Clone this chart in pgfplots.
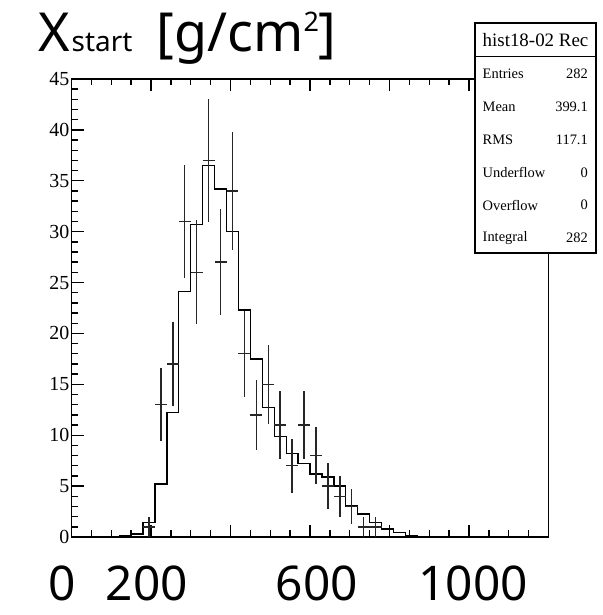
\documentclass[border=0pt]{standalone}
\usepackage{fontspec}
\setmainfont{Liberation Serif}
\newfontfamily\jp{Noto Sans}
\usepackage{pgfplots}
\usepackage{pgfplotstable}
\pgfplotsset{compat=1.18}
\pgfplotstableread{
x y
0 0
30 0
60 0
90 0.05
120 0.1
150 0.3
180 1.44
210 5.2
240 12.25
270 24.1
300 30.7
330 36.5
360 34.2
390 30.0
420 22.3
450 17.5
480 12.7
510 9.85
540 8.2
570 7.2
600 6.2
630 5.9
660 5.0
690 3.05
720 2.26
750 1.4
780 0.8
810 0.42
840 0.1
870 0.05
900 0
930 0
960 0
990 0
1020 0
1050 0
1080 0
1110 0
1140 0
1170 0
1200 0
}\mchist
\pgfplotstableread{
x y ex ey
195 1 15 1
225 13 15 3.606
255 17 15 4.123
285 31 15 5.568
315 26 15 5.099
345 37 15 6.083
375 27 15 5.196
405 34 15 5.831
435 18 15 4.243
465 12 15 3.464
495 15 15 3.873
525 11 15 3.317
555 7 15 2.646
585 11 15 3.317
615 8 15 2.828
645 5 15 2.236
675 4 15 2
705 3 15 1.732
735 1 15 1
765 1 15 1
}\recdata
\begin{document}
\begin{tikzpicture}
\useasboundingbox (-71.5bp,-78bp) rectangle (531.5bp,537bp);
\begin{axis}[
 at={(0bp,0bp)}, anchor=south west,
 scale only axis, width=477bp, height=458bp,
 xmin=0, xmax=1200, ymin=0, ymax=45,
 axis line style={line width=1.6bp},
 xtick={0,200,...,1200},
 minor x tick num=3,
 ytick={0,5,...,45},
 minor y tick num=4,
 ytick pos=left,
 xtick pos=both,
 tick align=inside,
 major tick length=12bp, minor tick length=6.5bp,
 every tick/.style={black, line width=1.4bp},
 xticklabels={0\hspace*{19bp},200\hspace*{8bp},,\hspace*{14bp}600,,\hspace*{8bp}1000,},
 xticklabel style={font=\jp\fontsize{48}{48}\selectfont, anchor=base, inner sep=0pt, yshift=-63bp},
 yticklabel style={font=\fontsize{20}{20}\selectfont, inner sep=2bp},
 /pgf/number format/assume math mode=true,
]
\addplot[const plot, black, line width=1.3bp] table[x=x, y=y] {\mchist};
\addplot[draw=none, mark=none,
  error bars/.cd, x dir=both, x explicit, y dir=both, y explicit,
  error mark=none, error bar style={draw=black!85, line width=1.4bp}]
  table[x=x, y=y, x error=ex, y error=ey] {\recdata};
\end{axis}
% title
\node[anchor=base west, inner sep=0pt] at (-33.5bp,485bp)
 {\jp\fontsize{54}{54}\selectfont X\hspace{2bp}{\fontsize{28}{28}\selectfont start}\hspace{0.45em}[g/cm\raisebox{20bp}{\fontsize{27}{27}\selectfont 2}]};
% stats box
\draw[line width=1.5bp, fill=white] (403.5bp,284bp) rectangle (524.5bp,514bp);
\draw[line width=1.5bp] (403.5bp,480.3bp) -- (524.5bp,480.3bp);
\node[inner sep=0pt, font=\fontsize{19}{19}\selectfont] at (464bp,497bp) {hist18-02 Rec};
\begin{scope}[every node/.style={inner sep=0pt, font=\fontsize{14.5}{14.5}\selectfont}]
\node[anchor=west] at (411bp,463bp) {Entries};   \node[anchor=east] at (516.5bp,463bp) {282};
\node[anchor=west] at (411bp,430.2bp) {Mean};    \node[anchor=east] at (516.5bp,430.2bp) {399.1};
\node[anchor=west] at (411bp,397.4bp) {RMS};     \node[anchor=east] at (516.5bp,397.4bp) {117.1};
\node[anchor=west] at (411bp,364.6bp) {Underflow}; \node[anchor=east] at (516.5bp,364.6bp) {0};
\node[anchor=west] at (411bp,331.8bp) {Overflow};  \node[anchor=east] at (516.5bp,331.8bp) {0};
\node[anchor=west] at (411bp,299bp) {Integral};  \node[anchor=east] at (516.5bp,299bp) {282};
\end{scope}
\end{tikzpicture}
\end{document}
